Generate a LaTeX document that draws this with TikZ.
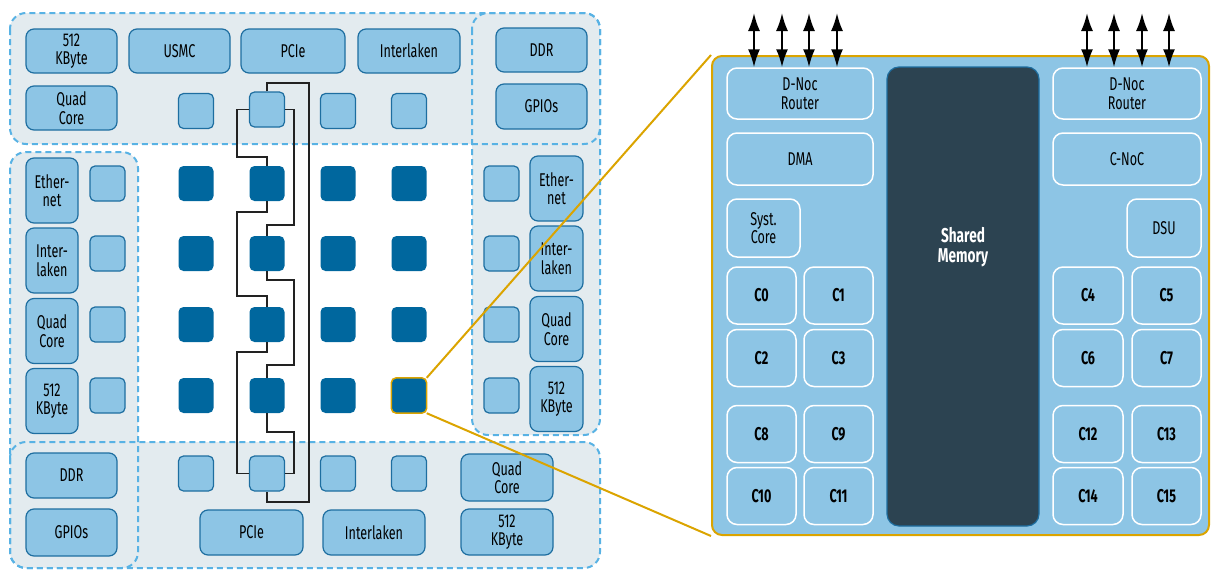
\documentclass[tikz,border=0pt]{standalone}
\usepackage{fontspec}
\setmainfont{Fira Sans}[FakeStretch=0.68]
\usepackage{tikz}
\usetikzlibrary{arrows.meta, positioning}
\definecolor{dashblue}{RGB}{88,178,228}
\definecolor{zonefill}{RGB}{227,235,239}
\definecolor{lightblue}{RGB}{141,197,229}
\definecolor{edgeblue}{RGB}{30,110,160}
\definecolor{tileblue}{RGB}{0,103,158}
\definecolor{memfill}{RGB}{44,67,81}
\definecolor{zoomgold}{RGB}{219,164,0}
\definecolor{wiregray}{RGB}{34,34,34}

\begin{document}
\begin{tikzpicture}[x=1pt, y=-1pt,
    zone/.style={draw=dashblue, line width=2pt, dash pattern=on 6pt off 4pt, rounded corners=16pt},
    io/.style={draw=edgeblue, line width=1.2pt, fill=lightblue, rounded corners=8pt, inner sep=0pt, align=center, font=\fontsize{18.5}{18.5}\selectfont},
    tile/.style={fill=tileblue, rounded corners=5pt, minimum size=35pt, inner sep=0pt},
    ltile/.style={tile, draw=edgeblue, line width=1.2pt, fill=lightblue},
    unit/.style={draw=white, line width=1.5pt, fill=lightblue, rounded corners=10pt, inner sep=0pt, align=center, font=\fontsize{18.5}{18.5}\selectfont},
    core/.style={unit, minimum width=69pt, minimum height=57pt, font=\bfseries\fontsize{18.5}{18.5}\selectfont},
    wire/.style={draw=wiregray, line width=1.6pt},
    zoomline/.style={draw=zoomgold, line width=2pt},
    link/.style={line width=2pt, {Latex[length=18pt,width=12pt]}-{Latex[length=18pt,width=12pt]}}]
  \useasboundingbox (0,0) rectangle (1211,570);
  % IO zones
  \fill[zonefill, rounded corners=16pt] (10,13) rectangle (600,144) (472,13) rectangle (600,435)
    (10,152) rectangle (138,568) (10,442) rectangle (600,568);
  \draw[zone] (10,13) rectangle (600,144);
  \draw[zone] (472,13) rectangle (600,435);
  \draw[zone] (10,152) rectangle (138,568);
  \draw[zone] (10,442) rectangle (600,568);
  % top IO blocks
  \node[io, minimum width=91pt, minimum height=44pt] (kbtop) at (71.5,51) {512\\KByte};
  \node[io, minimum width=101pt, minimum height=44pt] (usmc) at (179.5,51) {USMC};
  \node[io, minimum width=104pt, minimum height=44pt] (pcietop) at (293,51) {PCIe};
  \node[io, minimum width=102pt, minimum height=44pt] (ilktop) at (409,51) {Interlaken};
  \node[io, minimum width=91pt, minimum height=44pt] (ddrtop) at (541.5,50) {DDR};
  \node[io, minimum width=91pt, minimum height=45pt] (gpiotop) at (541.5,106.5) {GPIOs};
  \node[io, minimum width=91pt, minimum height=44pt] (quadtop) at (71.5,108) {Quad\\Core};
  % bottom IO blocks
  \node[io, minimum width=91pt, minimum height=45pt] (ddrbot) at (71.5,475.5) {DDR};
  \node[io, minimum width=91pt, minimum height=47pt] (gpiobot) at (71.5,532.5) {GPIOs};
  \node[io, minimum width=103pt, minimum height=45pt] (pciebot) at (251.5,532.5) {PCIe};
  \node[io, minimum width=102pt, minimum height=45pt] (ilkbot) at (374,532.5) {Interlaken};
  \node[io, minimum width=92pt, minimum height=47pt] (quadbot) at (507,477.5) {Quad\\Core};
  \node[io, minimum width=92pt, minimum height=46pt] (kbbot) at (507,532) {512\\KByte};
  % side IO blocks
  \foreach \n/\y/\txt in {1/190.5/{Ether-\\net}, 2/260.5/{Inter-\\laken}, 3/331/{Quad\\Core}, 4/401/{512\\KByte}}
    \node[io, minimum width=52pt, minimum height=65pt] (lio\n) at (52,\y) {\txt};
  \foreach \n/\y/\txt in {1/188.5/{Ether-\\net}, 2/258.5/{Inter-\\laken}, 3/329/{Quad\\Core}, 4/399/{512\\KByte}}
    \node[io, minimum width=53pt, minimum height=65pt] (rio\n) at (556.5,\y) {\txt};
  % compute clusters and IO clusters
  \foreach \r/\y in {1/183.5, 2/253.5, 3/324.5, 4/395.5} {
    \foreach \c/\x in {1/196, 2/267, 3/338, 4/409}
      \node[tile] (g\r\c) at (\x,\y) {};
    \node[ltile] (lt\r) at (107.5,\y) {};
    \node[ltile] (rt\r) at (501.5,\y) {};
  }
  \foreach \c/\x/\y in {1/196/111, 2/267/109.5, 3/338/111, 4/409/111}
    \node[ltile] (t\c) at (\x,\y) {};
  \foreach \c/\x in {1/196, 2/267, 3/338, 4/409}
    \node[ltile] (b\c) at (\x,473.5) {};
  \draw[zoomgold, line width=1.5pt, rounded corners=5pt] (g44.south west) rectangle (g44.north east);
  % NoC wires
  \draw[wire] (t2.west) -| (237,157) -| (g12.north);
  \draw[wire] (g12.south) |- (237,212) -- (237,296) -| (g32.north);
  \draw[wire] (g32.south) |- (237,352) |- (b2.west);
  \draw[wire] (t2.east) -| (294,225) -| (g22.north);
  \draw[wire] (g22.south) |- (294,280) -- (294,365) -| (g42.north);
  \draw[wire] (g42.south) |- (294,432) |- (b2.east);
  \draw[wire] (t2.north) |- (309,83) -- (309,502) -| (b2.south);
  % zoomed cluster
  \node[fill=lightblue, draw=zoomgold, line width=2pt, rounded corners=10pt, minimum width=497pt, minimum height=479pt, inner sep=0pt] (panel) at (960.5,295.5) {};
  \draw[zoomline] (g44.north east) -- (panel.north west);
  \draw[zoomline] (g44.south east) -- (panel.south west);
  \node[unit, minimum width=146pt, minimum height=51pt] (rleft) at (800,93.5) {D-Noc\\Router};
  \node[unit, minimum width=146pt, minimum height=52pt] (dma) at (800,159) {DMA};
  \node[unit, minimum width=73pt, minimum height=58pt] (sys) at (763.5,228) {Syst.\\Core};
  \node[unit, minimum width=148pt, minimum height=51pt] (rright) at (1127,93.5) {D-Noc\\Router};
  \node[unit, minimum width=148pt, minimum height=52pt] (cnoc) at (1127,159) {C-NoC};
  \node[unit, minimum width=74pt, minimum height=58pt] (dsu) at (1164,228) {DSU};
  \node[draw=edgeblue, line width=1.2pt, fill=memfill, rounded corners=12pt, minimum width=152pt, minimum height=459pt] (mem) at (963,296.5) {};
  \node[text=white, align=center, font=\bfseries\fontsize{20}{20}\selectfont] (memlabel) at (963,247) {Shared\\Memory};
  \foreach \y/\a/\b/\c/\d in {295.5/0/1/4/5, 358/2/3/6/7, 434/8/9/12/13, 496/10/11/14/15} {
    \node[core] (c\a) at (761.5,\y) {C\a};
    \node[core] (c\b) at (838.5,\y) {C\b};
    \node[core, minimum width=70pt] (c\c) at (1088,\y) {C\c};
    \node[core] (c\d) at (1166.5,\y) {C\d};
  }
  % D-NoC links
  \foreach \x [count=\i] in {754, 782, 809, 837} {
    \coordinate (pl\i) at (\x,13);
    \draw[link] (pl\i) -- (pl\i |- rleft.north);
  }
  \foreach \x [count=\i] in {1087, 1114, 1142, 1169} {
    \coordinate (pr\i) at (\x,13);
    \draw[link] (pr\i) -- (pr\i |- rright.north);
  }
\end{tikzpicture}
\end{document}
